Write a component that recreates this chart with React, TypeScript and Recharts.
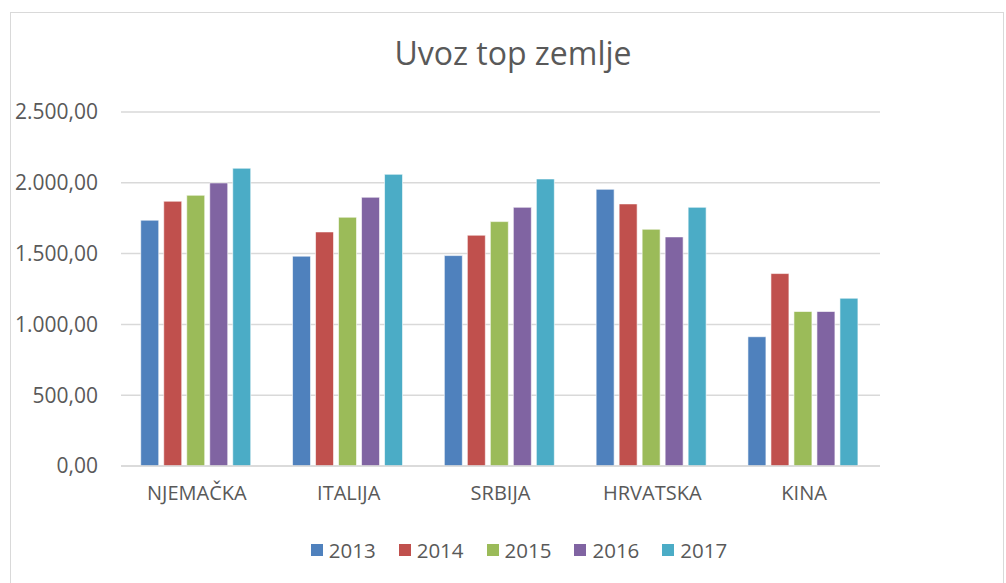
import { BarChart, Bar, XAxis, YAxis, CartesianGrid } from 'recharts';

const countries = ['NJEMAČKA', 'ITALIJA', 'SRBIJA', 'HRVATSKA', 'KINA'];
const years = ['2013', '2014', '2015', '2016', '2017'];
const values2013 = [1736, 1482, 1486, 1954, 913];
const values2014 = [1870, 1653, 1630, 1851, 1359];
const values2015 = [1912, 1757, 1726, 1672, 1091];
const values2016 = [1999, 1898, 1827, 1618, 1091];
const values2017 = [2103, 2060, 2027, 1827, 1185];
const yTicks = [0, 500, 1000, 1500, 2000, 2500];
const colors = ['#4f81bd', '#c0504d', '#9bbb59', '#8064a2', '#4bacc6'];

const series = [values2013, values2014, values2015, values2016, values2017];
const data = countries.map((c, i) => {
  const row: Record<string, string | number> = { country: c };
  years.forEach((y, j) => { row[y] = series[j][i]; });
  return row;
});

const fmt = (v: number) => {
  const s = Math.round(v).toString().replace(/\B(?=(\d{3})+(?!\d))/g, '.');
  return `${s},00`;
};

const font = '"Open Sans", Lato, sans-serif';
const textColor = '#595959';

export default function App() {
  return (
    <div style={{ position: 'absolute', left: 0, top: 0, width: 1006, height: 583, overflow: 'hidden', background: '#fff', fontFamily: font }}>
      <div style={{ position: 'absolute', left: 10, top: 12, width: 992, height: 600, border: '1px solid #d9d9d9' }} />
      <div style={{ position: 'absolute', left: 0, width: 1026, top: 33, textAlign: 'center', fontSize: 32, lineHeight: '40px', color: textColor }}>
        Uvoz top zemlje
      </div>
      <div style={{ position: 'absolute', left: 0, top: 0 }}>
        <BarChart width={1006} height={583} data={data} margin={{ top: 112, right: 126, left: 0, bottom: 57 }} barCategoryGap="13%" barGap={5}>
          <CartesianGrid vertical={false} stroke="#d9d9d9" strokeWidth={1.5} />
          <XAxis dataKey="country" axisLine={{ stroke: '#d9d9d9', strokeWidth: 1.5 }} tickLine={false} tickSize={0} tickMargin={20} height={60} interval={0}
            tick={{ fill: textColor, fontSize: 20, fontFamily: font }} />
          <YAxis width={121} domain={[0, 2500]} ticks={yTicks} axisLine={false} tickLine={false} tickSize={0} tickMargin={23}
            tickFormatter={fmt} tick={{ fill: textColor, fontSize: 21, fontFamily: font }} />
          {years.map((y, i) => (
            <Bar key={y} dataKey={y} fill={colors[i]} stroke="#ffffff" strokeOpacity={0.6} strokeWidth={1} isAnimationActive={false} />
          ))}
        </BarChart>
      </div>
      <div style={{ position: 'absolute', left: 0, width: 1038, top: 536, display: 'flex', justifyContent: 'center', gap: 23, fontSize: 20.5, color: textColor }}>
        {years.map((y, i) => (
          <div key={y} style={{ display: 'flex', alignItems: 'center', gap: 6 }}>
            <span style={{ display: 'inline-block', width: 12, height: 12, background: colors[i] }} />
            <span style={{ lineHeight: '28px' }}>{y}</span>
          </div>
        ))}
      </div>
    </div>
  );
}
